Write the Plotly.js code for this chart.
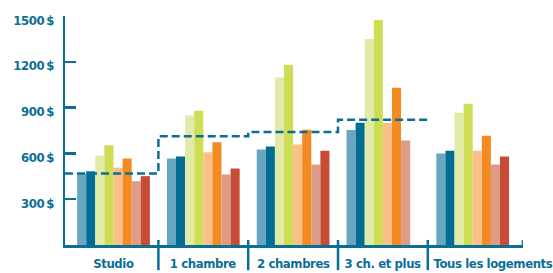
<!DOCTYPE html>
<html><head><meta charset="utf-8">
<script src="https://cdn.plot.ly/plotly-3.0.1.min.js"></script>
<style>html,body{margin:0;padding:0;background:#fff}#chart{width:553px;height:273px}#chart text{letter-spacing:-0.4px}</style>
</head><body><div id="chart"></div>
<script>
const categories = ['Studio', '1 chambre', '2 chambres', '3 ch. et plus', 'Tous les logements'];
const seriesNames = ['Série 1', 'Série 2', 'Série 3', 'Série 4', 'Série 5', 'Série 6', 'Série 7', 'Série 8'];
const serie1 = [468, 566, 625, 753, 599];
const serie2 = [483, 579, 645, 801, 618];
const serie3 = [586, 849, 1097, 1350, 867];
const serie4 = [653, 880, 1180, 1474, 925];
const serie5 = [507, 607, 658, 801, 618];
const serie6 = [566, 673, 755, 1030, 716];
const serie7 = [418, 462, 527, 684, 527];
const serie8 = [451, 501, 618, null, 579];
const dashedLevels = [468, 712, 740, 821];
const yTickValues = [300, 600, 900, 1200, 1500];
const yTickLabels = ['300\u2009$', '600\u2009$', '900\u2009$', '1200\u2009$', '1500\u2009$'];

const seriesValues = [serie1, serie2, serie3, serie4, serie5, serie6, serie7, serie8];
const colors = ['#69a6c2', '#016d94', '#e2eaaa', '#cfdd55', '#fbbf89', '#f48b22', '#dc9c87', '#c74b36'];
const axisColor = '#0b6e94';
const fam = '"DejaVu Sans Condensed", "DejaVu Sans", sans-serif';
const xRange = [-0.54, 4.56];

const xIdx = categories.map((c, i) => i);
const traces = seriesValues.map((vals, k) => ({
  type: 'bar', x: xIdx, y: vals, name: seriesNames[k],
  marker: {color: colors[k], line: {width: 0}}, hoverinfo: 'skip'
}));
const stepX = [xRange[0]].concat(dashedLevels.map((v, i) => i + 0.5));
const stepY = dashedLevels.concat([dashedLevels[dashedLevels.length - 1]]);
traces.push({
  type: 'scatter', mode: 'lines', x: stepX, y: stepY, name: 'Moyenne',
  line: {shape: 'hv', color: axisColor, width: 2.5, dash: '8px,4px'}, hoverinfo: 'skip'
});

const shapes = categories.slice(0, -1).map((c, i) => ({
  type: 'line', xref: 'x', yref: 'paper', x0: i + 0.5, x1: i + 0.5, y0: -0.11, y1: 0.022,
  line: {color: axisColor, width: 2.5}
}));
shapes.push({type: 'line', xref: 'x', yref: 'paper', x0: xRange[1], x1: xRange[1], y0: 0, y1: 0.022,
  line: {color: axisColor, width: 2.5}});

const annotations = categories.map((c, i) => {
  const last = i === categories.length - 1;
  return {
    xref: 'x', yref: 'paper', x: last ? i - 0.5 : i, y: 0,
    xanchor: last ? 'left' : 'center', yanchor: 'top', xshift: 0, yshift: -9,
    text: c, showarrow: false,
    font: {family: fam, size: 13, color: axisColor, weight: 'bold'}
  };
});

const layout = {
  width: 553, height: 273,
  margin: {l: 65, r: 30, t: 16, b: 28, pad: 0},
  paper_bgcolor: '#fff', plot_bgcolor: '#fff',
  showlegend: false,
  barmode: 'group', bargap: 0.19, bargroupgap: 0,
  xaxis: {type: 'linear', range: xRange, showline: true, linecolor: axisColor, linewidth: 2.5,
    showgrid: false, zeroline: false, showticklabels: false, ticks: '', fixedrange: true},
  yaxis: {range: [0, 1500], tickmode: 'array', tickvals: yTickValues, ticktext: yTickLabels,
    ticks: 'inside', ticklen: 11,
    tickwidth: 2.5, tickcolor: axisColor, showline: true, linecolor: axisColor, linewidth: 2.5,
    showgrid: false, zeroline: false, ticklabelstandoff: 6, ticklabelshift: 4,
    tickfont: {family: fam, size: 13, color: axisColor, weight: 'bold'}},
  shapes: shapes,
  annotations: annotations
};
Plotly.newPlot('chart', traces, layout, {staticPlot: true, displayModeBar: false});
</script></body></html>
